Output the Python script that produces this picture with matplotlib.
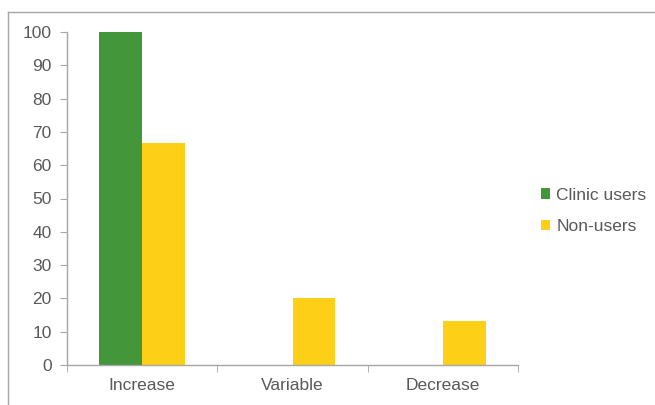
import matplotlib
matplotlib.use("Agg")
import matplotlib.pyplot as plt
import numpy as np
from matplotlib.lines import Line2D

categories = ["Increase", "Variable", "Decrease"]
clinic_users = [100, 0, 0]
non_users = [66.7, 20, 13.3]
y_ticks = [0, 10, 20, 30, 40, 50, 60, 70, 80, 90, 100]

plt.rcParams['font.family'] = ['Liberation Sans', 'DejaVu Sans']
grey = "#595959"
axis_grey = "#a6a6a6"

fig = plt.figure(figsize=(6.55, 4.05), dpi=100)
ax = fig.add_axes([67/655, 1 - 365/405, (518 - 67)/655, (365 - 32)/405])

x = np.arange(len(categories))
w = 0.286
ax.bar(x - w/2, clinic_users, w, color="#43963a", label="Clinic users")
ax.bar(x + w/2, non_users, w, color="#fdd017", label="Non-users")

ax.set_xlim(-0.5, 2.5)
ax.set_ylim(0, 100)
ax.set_yticks(y_ticks)
ax.set_xticks(x)
ax.set_xticklabels(categories)
ax.set_xticks([-0.5, 0.5, 1.5, 2.5], minor=True)

for s in ["top", "right"]:
    ax.spines[s].set_visible(False)
for s in ["left", "bottom"]:
    ax.spines[s].set_color(axis_grey)
    ax.spines[s].set_linewidth(1)

ax.tick_params(axis="y", colors=grey, labelsize=12.5, length=5, color=axis_grey, pad=6)
ax.tick_params(axis="x", which="major", colors=grey, labelsize=12.5, length=0, pad=9)
ax.tick_params(axis="x", which="minor", length=5, color=axis_grey)

leg = fig.legend(loc="upper left", bbox_to_anchor=(525/655, 1 - 172/405), frameon=False,
                 fontsize=12.5, handlelength=0.55, handleheight=0.55, handletextpad=0.35,
                 labelspacing=0.95, labelcolor=grey)

# outer chart border (only top and left visible in the crop)
fig.add_artist(Line2D([8/655, 1], [1 - 11.5/405, 1 - 11.5/405], color=axis_grey, lw=1))
fig.add_artist(Line2D([8/655, 8/655], [0, 1 - 11.5/405], color=axis_grey, lw=1))

fig.savefig("out.png", dpi=100)
